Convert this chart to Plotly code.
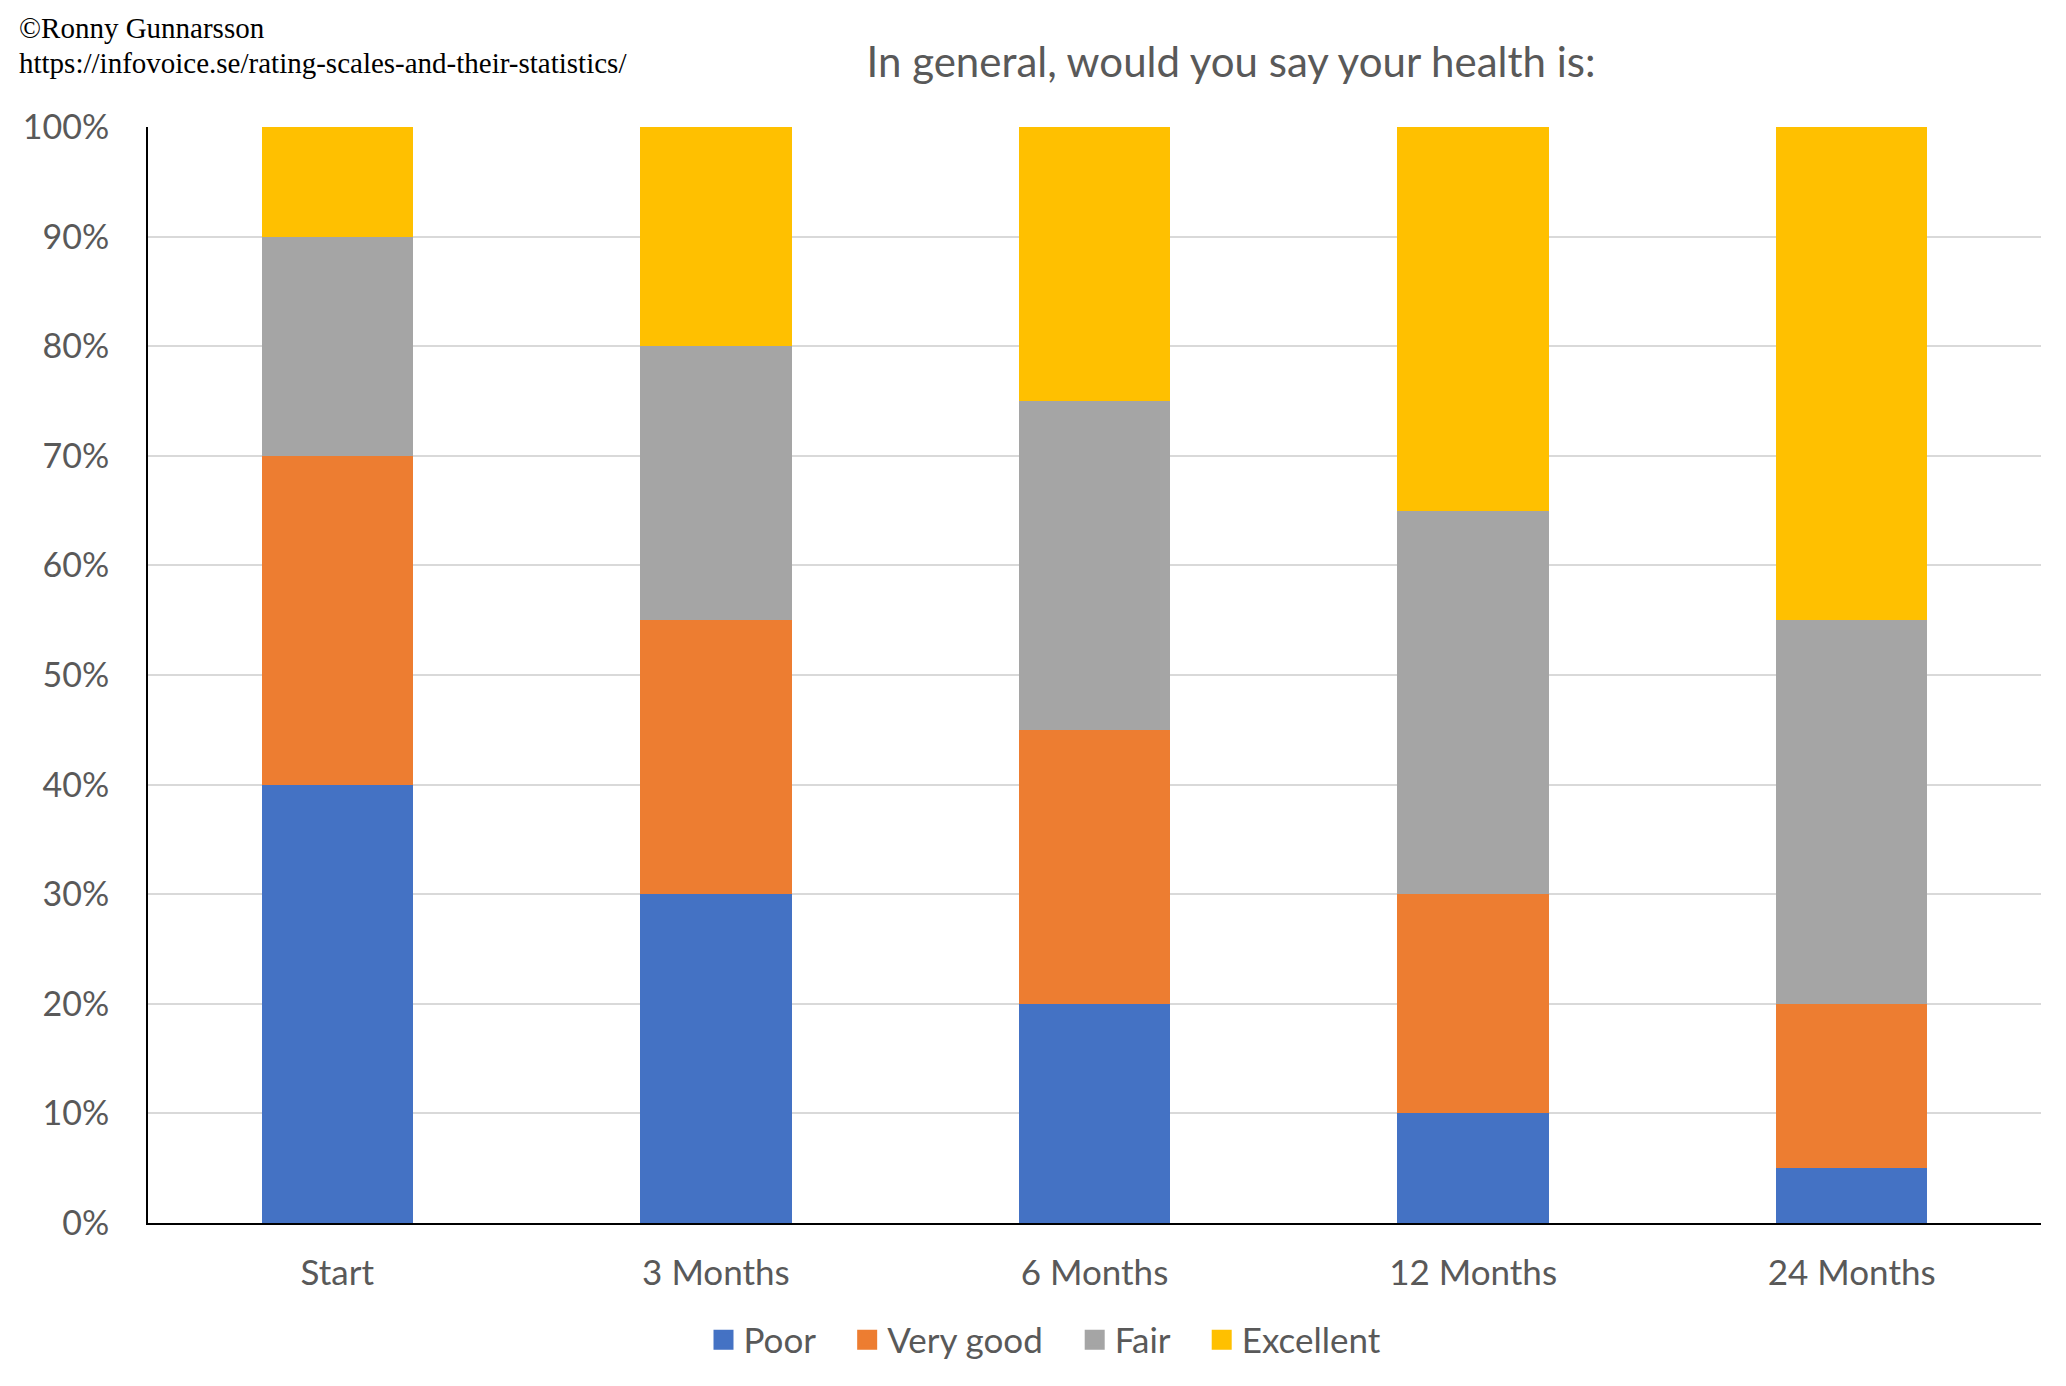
import plotly.graph_objects as go

categories = ["Start", "3 Months", "6 Months", "12 Months", "24 Months"]
poor = [40, 30, 20, 10, 5]
very_good = [30, 25, 25, 20, 15]
fair = [20, 25, 30, 35, 35]
excellent = [10, 20, 25, 35, 45]
y_ticks = [0, 10, 20, 30, 40, 50, 60, 70, 80, 90, 100]
y_tick_labels = [f"{v}%" for v in y_ticks]

series = [
    ("Poor", poor, "#4472C4"),
    ("Very good", very_good, "#ED7D31"),
    ("Fair", fair, "#A5A5A5"),
    ("Excellent", excellent, "#FFC000"),
]

W, H = 2066, 1386
L, R, T, B = 140, 33, 119, 171
PW, PH = W - L - R, H - T - B

fig = go.Figure()
for name, vals, color in series:
    fig.add_trace(go.Bar(
        x=categories, y=vals, name=name, showlegend=False,
        marker=dict(color=color, line=dict(width=0)),
    ))
# legend entries with larger square swatches
pad = "\u00a0\u00a0\u00a0"
for i, (name, vals, color) in enumerate(series):
    label = name + (pad if i < len(series) - 1 else "")
    fig.add_trace(go.Scatter(
        x=[None], y=[None], name=label, mode="markers",
        marker=dict(symbol="square", size=16, color=color,
                    line=dict(color=color, width=4)),
        showlegend=True, hoverinfo="skip",
    ))

font_main = "Lato, 'Open Sans', sans-serif"
fig.update_layout(
    barmode="stack",
    bargap=0.6,
    width=W, height=H,
    margin=dict(l=L, r=R, t=T, b=B),
    paper_bgcolor="white", plot_bgcolor="white",
    font=dict(family=font_main, color="#595959", size=34),
    title=dict(text="In general, would you say your health is:",
               x=1223 / W, xanchor="center", y=1 - 54 / H, yanchor="middle",
               font=dict(size=42, color="#595959", family=font_main)),
    legend=dict(orientation="h", x=(1037 - L) / PW, xanchor="center",
                y=-117 / PH, yanchor="middle",
                font=dict(size=35, color="#595959"), traceorder="normal",
                itemwidth=30),
    showlegend=True,
)
fig.update_yaxes(range=[0, 100], tickvals=y_ticks, ticktext=y_tick_labels,
                 showgrid=True, gridcolor="#D9D9D9", gridwidth=1.5,
                 showline=True, linecolor="black", linewidth=2,
                 ticks="", ticklabelstandoff=30, zeroline=False,
                 tickfont=dict(size=34, color="#595959"))
fig.update_xaxes(showline=True, linecolor="black", linewidth=2, ticks="",
                 ticklabelstandoff=18, tickfont=dict(size=35, color="#595959"))

serif = "'Liberation Serif', 'Times New Roman', serif"
fig.add_annotation(text="©Ronny Gunnarsson", xref="paper", yref="paper",
                   x=(9 - L) / PW, y=1 + (T - 20) / PH, xanchor="left", yanchor="middle",
                   showarrow=False, font=dict(family=serif, size=29, color="black"))
fig.add_annotation(text="https://infovoice.se/rating-scales-and-their-statistics/", xref="paper", yref="paper",
                   x=(9 - L) / PW, y=1 + (T - 55) / PH, xanchor="left", yanchor="middle",
                   showarrow=False, font=dict(family=serif, size=29, color="black"))

fig.write_html("out.html")
